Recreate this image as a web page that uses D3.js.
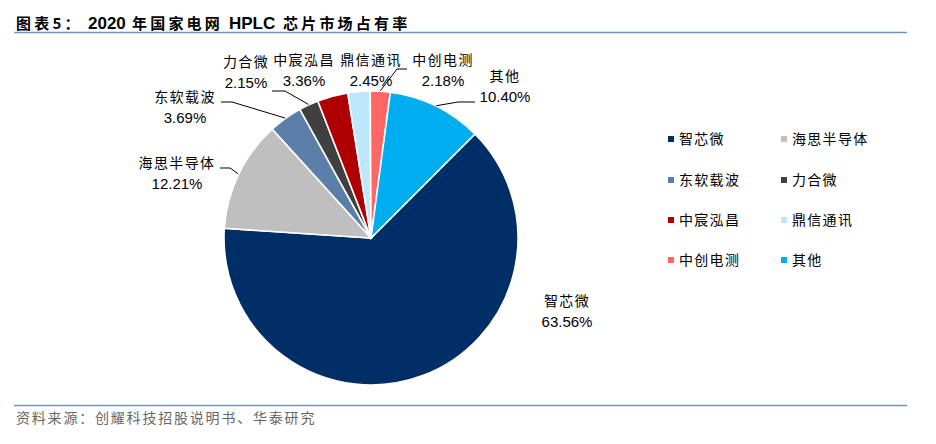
<!DOCTYPE html>
<html><head><meta charset="utf-8">
<script src="https://cdn.jsdelivr.net/npm/d3@7/dist/d3.min.js"></script>
<style>html,body{margin:0;background:#fff}svg{display:block}
.cjk{font-family:"Noto Sans CJK SC","Noto Sans",sans-serif}
.lat{font-family:"Liberation Sans",Arial,sans-serif}</style></head><body>
<svg id="c" width="936" height="444"></svg>
<script>
const categories=["智芯微","海思半导体","东软载波","力合微","中宸泓昌","鼎信通讯","中创电测","其他"];
const shares=[63.56,12.21,3.69,2.15,3.36,2.45,2.18,10.40];
const colors=["#002F67","#BFBFBF","#5B7FA8","#404040","#AE0000","#BDE8FB","#FF6666","#00AEEF"];
const titleParts=[["图表5：",16,"cjk"],["2020",88,"lat"],["年国家电网",132,"cjk"],["HPLC",229,"lat"],["芯片市场占有率",283,"cjk"]];
const sourceText="资料来源：创耀科技招股说明书、华泰研究";
// label anchor (centre x, first line y) per category
const labelX=[567,177,185,246,304,371,443,505];
const labelY=[301,163,97,62,60,60,60,76];
// leader elbow and end, null when the slice has no leader
const leaders=[null,[[230,168],[220,168]],[[232,102],[221,102]],[[285,91],[272,91]],null,null,[[397,69],[407,69]],[[458,102],[475,102]]];
const legendCols=[668,781], legendRows=[139,180,220,260];

const svg=d3.select("#c");
const cx=371,cy=238,R=147;
const pie=d3.pie().sort(null).value(d=>d).startAngle(Math.PI/4).endAngle(Math.PI/4+2*Math.PI);
const arcs=pie(shares);
const arc=d3.arc().innerRadius(0).outerRadius(R);
const g=svg.append("g").attr("transform",`translate(${cx},${cy})`);
g.selectAll("path").data(arcs).join("path").attr("d",arc)
 .attr("fill",(d,i)=>colors[i]).attr("stroke","#fff").attr("stroke-width",1.6);

// leaders start at the slice's outer edge
const line=d3.line();
leaders.forEach((l,i)=>{ if(!l) return;
  const a=(arcs[i].startAngle+arcs[i].endAngle)/2;
  const p=[cx+Math.sin(a)*(R+0.5),cy-Math.cos(a)*(R+0.5)];
  svg.append("path").attr("d",line([p,...l])).attr("fill","none").attr("stroke","#000").attr("stroke-width",1);
});
// data labels
categories.forEach((c,i)=>{
  svg.append("text").attr("class","cjk").attr("x",labelX[i]).attr("y",labelY[i]+5)
    .attr("text-anchor","middle").attr("font-size",14).attr("letter-spacing",1.4).attr("fill","#000").text(c);
  svg.append("text").attr("class","lat").attr("x",labelX[i]).attr("y",labelY[i]+26)
    .attr("text-anchor","middle").attr("font-size",15).attr("fill","#000").text(shares[i].toFixed(2)+"%");
});
// legend
categories.forEach((c,i)=>{
  const x=legendCols[i%2], y=legendRows[Math.floor(i/2)];
  svg.append("rect").attr("x",x).attr("y",y-3).attr("width",6).attr("height",6).attr("fill",colors[i]);
  svg.append("text").attr("class","cjk").attr("x",x+11).attr("y",y+5).attr("font-size",14)
    .attr("letter-spacing",1.3).attr("fill","#000").text(c);
});
// title, rules, source
titleParts.forEach(([t,x,k])=>{
  const e=svg.append("text").attr("class",k).attr("x",x).attr("y",28.5).attr("font-weight","bold").attr("fill","#000").text(t);
  if(k=="lat") e.attr("font-size",17); else e.attr("font-size",15).attr("letter-spacing",3.2);
});
[32.5,405.5].forEach(y=>svg.append("line").attr("x1",14).attr("x2",907).attr("y1",y).attr("y2",y).attr("stroke","#6F94BE").attr("stroke-width",1.3));
svg.append("text").attr("class","cjk").attr("x",16).attr("y",423).attr("font-size",14).attr("letter-spacing",1.8).attr("fill","#666").text(sourceText);
</script></body></html>
